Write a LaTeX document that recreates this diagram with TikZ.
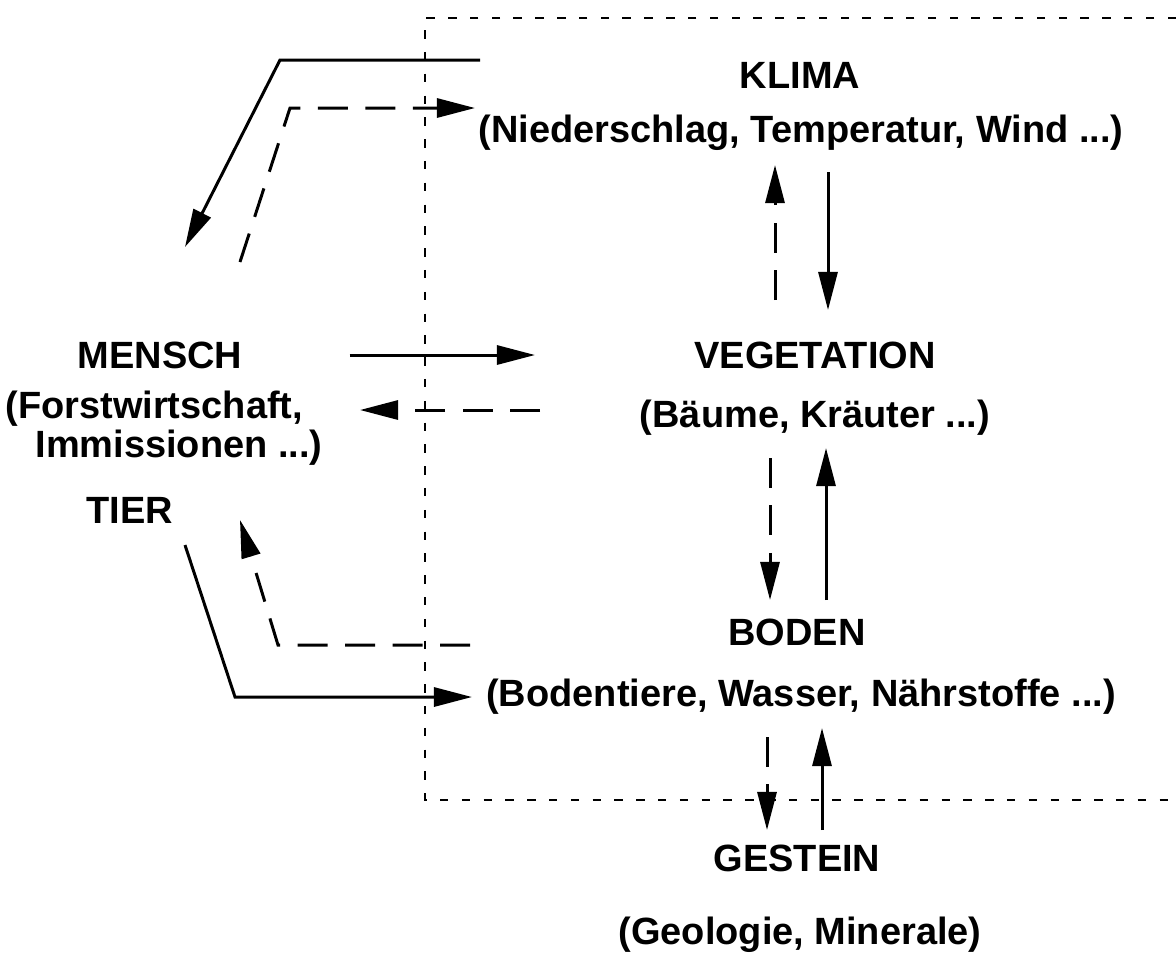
\documentclass[tikz,border=0pt]{standalone}
\usepackage{fontspec}
\setmainfont{Liberation Sans}
\usetikzlibrary{arrows.meta}

\tikzset{
  lbl/.style={font=\fontsize{10.8}{13}\selectfont\bfseries},
  fluss/.style={line width=0.85pt,-{Triangle[length=3.8mm,width=1.9mm]}},
  rueck/.style={fluss,dash pattern=on 8.5pt off 5pt},
  rahmen/.style={line width=0.75pt,dash pattern=on 2.4pt off 3.8pt},
}

\begin{document}
\begin{tikzpicture}[x=0.01cm,y=-0.01cm]
  \useasboundingbox (0,0) rectangle (1176,969);
  % gestrichelter Rahmen
  \draw[rahmen] (1176,18) -- (425,18) -- (425,800) -- (1176,800);

  \node[lbl] (klima) at (800,75) {KLIMA};
  \node[lbl] (klimatxt) at (801,133) {(Niederschlag, Temperatur, Wind ...)};
  \node[lbl] (veg) at (815,355) {VEGETATION};
  \node[lbl] (vegtxt) at (815,418) {(Bäume, Kräuter ...)};
  \node[lbl] (boden) at (797,632) {BODEN};
  \node[lbl] (bodentxt) at (801,697) {(Bodentiere, Wasser, Nährstoffe ...)};
  \node[lbl] (gestein) at (797,858) {GESTEIN};
  \node[lbl] (gesteintxt) at (800,935) {(Geologie, Minerale)};
  \node[lbl] (mensch) at (160,355) {MENSCH};
  \node[lbl,font=\fontsize{10.8}{8}\selectfont\bfseries,align=left] (menschtxt) at (164,428)
    {(Forstwirtschaft,\\\hspace*{3mm}Immissionen ...)};
  \node[lbl] (tier) at (130,510) {TIER};

  % Knickpunkte
  \coordinate (km1) at (480,60);
  \coordinate (km2) at (280,60);
  \coordinate (km3) at (185,247);
  \coordinate (mk1) at (240,262);
  \coordinate (mk2) at (290,108);
  \coordinate (mk3) at (475,108);
  \coordinate (bt1) at (470,645);
  \coordinate (bt2) at (278,645);
  \coordinate (bt3) at (240,520);
  \coordinate (tb1) at (185,545);
  \coordinate (tb2) at (235,697);
  \coordinate (tb3) at (472,697);

  \draw[fluss] (km1) -- (km2) -- (km3);
  \draw[rueck] (mk1) -- (mk2) -- (mk3);
  \draw[rueck] (bt1) -- (bt2) -- (bt3);
  \draw[fluss] (tb1) -- (tb2) -- (tb3);

  % Mensch <-> Vegetation
  \draw[fluss] (mensch.east |- 0,355) ++(95,0) coordinate (mv1) -- (535,355) coordinate (mv2);
  \draw[rueck] (540,410) coordinate (vm1) -- (360,410) coordinate (vm2);

  % senkrechte Pfeile
  \draw[rueck] (775,300) coordinate (vk1) -- (775,165) coordinate (vk2);
  \draw[fluss] (828,172) coordinate (kv1) -- (828,310) coordinate (kv2);
  \draw[rueck] (770,458) coordinate (vb1) -- (770,600) coordinate (vb2);
  \draw[fluss] (826,600) coordinate (bv1) -- (826,448) coordinate (bv2);
  \draw[rueck] (767,737) coordinate (bg1) -- (767,830) coordinate (bg2);
  \draw[fluss] (822,830) coordinate (gb1) -- (822,728) coordinate (gb2);
\end{tikzpicture}
\end{document}
